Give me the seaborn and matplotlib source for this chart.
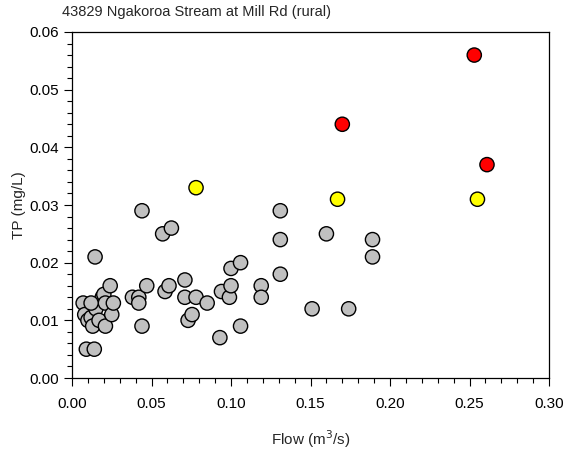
import matplotlib
matplotlib.use("Agg")
import matplotlib.pyplot as plt
from matplotlib.ticker import MultipleLocator, FormatStrFormatter
import seaborn as sns
import pandas as pd

gray_flow = [0.007, 0.008, 0.010, 0.012, 0.013, 0.014, 0.015, 0.017, 0.019, 0.020,
             0.021, 0.021, 0.024, 0.025, 0.026, 0.009, 0.014, 0.0145, 0.012,
             0.038, 0.042, 0.042, 0.044, 0.044, 0.047, 0.057, 0.0625, 0.0585, 0.061,
             0.071, 0.071, 0.073, 0.0755, 0.078, 0.085, 0.093, 0.094, 0.099, 0.100,
             0.100, 0.106, 0.106, 0.119, 0.119, 0.131, 0.131, 0.131, 0.151, 0.160,
             0.174, 0.189, 0.189]
gray_tp = [0.013, 0.011, 0.010, 0.0105, 0.009, 0.0125, 0.012, 0.010, 0.014, 0.0145,
           0.013, 0.009, 0.016, 0.011, 0.013, 0.005, 0.005, 0.021, 0.013,
           0.014, 0.014, 0.013, 0.009, 0.029, 0.016, 0.025, 0.026, 0.015, 0.016,
           0.017, 0.014, 0.010, 0.011, 0.014, 0.013, 0.007, 0.015, 0.014, 0.016,
           0.019, 0.020, 0.009, 0.016, 0.014, 0.029, 0.024, 0.018, 0.012, 0.025,
           0.012, 0.024, 0.021]
yellow_flow = [0.078, 0.167, 0.255]
yellow_tp = [0.033, 0.031, 0.031]
red_flow = [0.170, 0.253, 0.261]
red_tp = [0.044, 0.056, 0.037]

df = pd.DataFrame({
    "flow": gray_flow + yellow_flow + red_flow,
    "tp": gray_tp + yellow_tp + red_tp,
    "group": ["gray"] * len(gray_flow) + ["yellow"] * len(yellow_flow) + ["red"] * len(red_flow),
})

sns.set_style("ticks")
plt.rcParams["font.family"] = ["Liberation Sans", "DejaVu Sans"]

fig = plt.figure(figsize=(5.64, 4.55), dpi=100)
ax = fig.add_axes([0.1277, 0.1692, 0.8457, 0.7605])

palette = {"gray": "#c0c0c0", "yellow": "#ffff00", "red": "#ff0000"}
sns.scatterplot(data=df, x="flow", y="tp", hue="group", palette=palette,
                s=105, edgecolor="black", linewidth=1.0, legend=False, ax=ax, zorder=3)

ax.set_xlim(0, 0.30)
ax.set_ylim(0, 0.06)
ax.xaxis.set_major_locator(MultipleLocator(0.05))
ax.xaxis.set_minor_locator(MultipleLocator(0.01))
ax.yaxis.set_major_locator(MultipleLocator(0.01))
ax.yaxis.set_minor_locator(MultipleLocator(0.002))
ax.xaxis.set_major_formatter(FormatStrFormatter("%.2f"))
ax.yaxis.set_major_formatter(FormatStrFormatter("%.2f"))
ax.tick_params(which="major", direction="out", length=6, width=0.8, labelsize=11, color="black", labelcolor="black")
ax.tick_params(which="minor", direction="out", length=3.5, width=0.8, color="black")
ax.tick_params(axis="x", pad=8)
for sp in ax.spines.values():
    sp.set_visible(True)
    sp.set_color("black")
    sp.set_linewidth(0.9)

ax.set_xlabel("Flow (m$^3$/s)", fontsize=11, labelpad=12)
ax.set_ylabel("TP (mg/L)", fontsize=11, labelpad=2)
fig.text(0.11, 0.973, "43829 Ngakoroa Stream at Mill Rd (rural)", fontsize=10.5,
         ha="left", va="center")

fig.savefig("out.png", dpi=100)
